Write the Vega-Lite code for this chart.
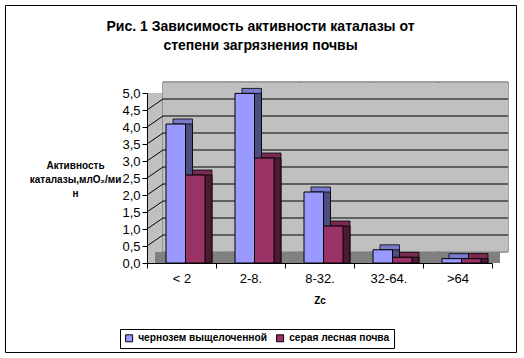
{
  "$schema": "https://vega.github.io/schema/vega-lite/v6.json",
  "width": 511,
  "height": 347,
  "autosize": {"type": "none"},
  "padding": {"left": 5, "top": 5, "right": 8, "bottom": 6},
  "background": "white",
  "config": {
    "view": {"stroke": "black", "strokeWidth": 1, "fill": "white"},
    "font": "Liberation Sans",
    "legend": {
      "orient": "none", "legendX": 115, "legendY": 324, "direction": "horizontal",
      "strokeColor": "black", "padding": 4, "symbolType": "square", "symbolSize": 49,
      "symbolStrokeColor": "black", "symbolStrokeWidth": 1,
      "labelFont": "Liberation Sans", "labelFontSize": 10.2, "labelFontWeight": "bold",
      "labelColor": "black", "columnPadding": 7, "labelOffset": 4, "labelLimit": 300
    }
  },
  "title": {
    "text": ["Рис. 1 Зависимость активности каталазы от", "степени загрязнения почвы"],
    "font": "Liberation Sans", "fontSize": 14, "fontWeight": "bold", "color": "black",
    "anchor": "middle", "frame": "group", "baseline": "alphabetic", "offset": -59, "lineHeight": 19
  },
  "datasets": {
    "main": [
      {"zc": "< 2", "soil": "чернозем выщелоченной", "activity": 4.0},
      {"zc": "< 2", "soil": "серая лесная почва", "activity": 2.5},
      {"zc": "2-8.", "soil": "чернозем выщелоченной", "activity": 4.9},
      {"zc": "2-8.", "soil": "серая лесная почва", "activity": 3.0},
      {"zc": "8-32.", "soil": "чернозем выщелоченной", "activity": 2.0},
      {"zc": "8-32.", "soil": "серая лесная почва", "activity": 1.0},
      {"zc": "32-64.", "soil": "чернозем выщелоченной", "activity": 0.3},
      {"zc": "32-64.", "soil": "серая лесная почва", "activity": 0.08},
      {"zc": ">64", "soil": "чернозем выщелоченной", "activity": 0.04},
      {"zc": ">64", "soil": "серая лесная почва", "activity": 0.04}
    ],
    "grid": [
      {"level": 0.5}, {"level": 1.0}, {"level": 1.5}, {"level": 2.0}, {"level": 2.5},
      {"level": 3.0}, {"level": 3.5}, {"level": 4.0}, {"level": 4.5}
    ]
  },
  "data": {"name": "main"},
  "resolve": {
    "scale": {"xOffset": "independent", "fill": "independent"},
    "legend": {"fill": "independent"}
  },
  "layer": [
    {
      "mark": {"type": "bar", "fill": "#c0c0c0", "strokeWidth": 0},
      "encoding": {
        "x": {
          "field": "zc", "type": "nominal", "sort": ["< 2", "2-8.", "8-32.", "32-64.", ">64"],
          "scale": {"type": "band", "domain": ["< 2", "2-8.", "8-32.", "32-64.", ">64"], "range": [142, 487], "paddingInner": 0, "paddingOuter": 0},
          "axis": {
            "orient": "bottom", "offset": -89, "zindex": 1, "tickBand": "extent", "tickSize": 5,
            "labelFontSize": 13, "labelPadding": 4, "labelAngle": 0, "labelColor": "black",
            "labelFont": "Liberation Sans",
            "domainColor": "black", "tickColor": "black",
            "title": "Zc", "titleFontSize": 10, "titleFontWeight": "bold", "titlePadding": 10,
            "titleColor": "black", "titleFont": "Liberation Sans"
          }
        },
        "y": {
          "datum": 5, "type": "quantitative",
          "scale": {"domain": [0, 5], "range": [258, 88], "nice": false, "zero": true},
          "axis": {
            "orient": "left", "offset": -142, "zindex": 1, "grid": false,
            "domainColor": "black", "tickColor": "black", "tickSize": 5,
            "tickCount": 10,
            "labelOverlap": false, "labelSeparation": 0, "labelBound": false,
            "labelExpr": "replace(format(datum.value, '.1f'), '.', ',')",
            "labelFontSize": 13, "labelColor": "black", "labelFont": "Liberation Sans", "labelPadding": 2,
            "title": ["Активность", "каталазы,млО₂/ми", "н"],
            "titleAngle": 0, "titleFontSize": 10, "titleFontWeight": "bold", "titleColor": "black",
            "titleFont": "Liberation Sans", "titleAlign": "center", "titleBaseline": "alphabetic",
            "titleX": -72, "titleY": 163, "titleLineHeight": 14
          }
        },
        "y2": {"datum": 0}
      }
    },
    {
      "mark": {"type": "bar", "fill": "#c0c0c0", "stroke": "#808080", "strokeWidth": 1, "xOffset": 16, "x2Offset": 16, "yOffset": -11, "y2Offset": -11},
      "encoding": {
        "x": {"field": "zc", "type": "nominal"},
        "y": {"datum": 5, "type": "quantitative"},
        "y2": {"datum": 0}
      }
    },
    {
      "mark": {"type": "bar", "fill": "#c0c0c0", "strokeWidth": 0, "xOffset": 16, "x2Offset": 16, "yOffset": -10, "y2Offset": -12},
      "encoding": {
        "x": {"field": "zc", "type": "nominal"},
        "y": {"datum": 5, "type": "quantitative"},
        "y2": {"datum": 0}
      }
    },
    {
      "mark": {"type": "bar", "fill": "#808080", "strokeWidth": 0, "xOffset": 8, "x2Offset": 8},
      "encoding": {
        "x": {"field": "zc", "type": "nominal"},
        "y": {"datum": 0.32, "type": "quantitative"},
        "y2": {"datum": 0}
      }
    },
    {
      "data": {"name": "grid"},
      "mark": {"type": "rule", "color": "black", "strokeWidth": 1, "xOffset": -18.5, "x2Offset": 50.5, "yOffset": -11, "y2Offset": -11},
      "encoding": {
        "x": {"datum": "< 2"},
        "x2": {"datum": ">64"},
        "y": {"field": "level", "type": "quantitative"}
      }
    },
    {
      "data": {"name": "grid"},
      "mark": {"type": "rule", "color": "black", "strokeWidth": 1, "xOffset": -34.5, "x2Offset": -18.5, "yOffset": 0, "y2Offset": -11},
      "encoding": {
        "x": {"datum": "< 2"},
        "x2": {"datum": "< 2"},
        "y": {"field": "level", "type": "quantitative"},
        "y2": {"field": "level"}
      }
    },
    {
      "mark": {"type": "bar", "stroke": "black", "strokeWidth": 0.8, "yOffset": -8},
      "encoding": {
        "x": {"field": "zc", "type": "nominal"},
        "xOffset": {"field": "soil", "type": "nominal", "scale": {"domain": ["чернозем выщелоченной", "серая лесная почва"], "range": [26, 65], "paddingInner": 0, "paddingOuter": 0}},
        "y": {"field": "activity", "type": "quantitative", "stack": null},
        "fill": {"field": "soil", "type": "nominal", "scale": {"domain": ["чернозем выщелоченной", "серая лесная почва"], "range": ["#7a7acc", "#7a2952"]}, "legend": null}
      }
    },
    {
      "mark": {"type": "bar", "stroke": "black", "strokeWidth": 0.8, "yOffset": -3},
      "encoding": {
        "x": {"field": "zc", "type": "nominal"},
        "xOffset": {"field": "soil", "type": "nominal", "scale": {"domain": ["чернозем выщелоченной", "серая лесная почва"], "range": [26, 65], "paddingInner": 0, "paddingOuter": 0}},
        "y": {"field": "activity", "type": "quantitative", "stack": null},
        "fill": {"field": "soil", "type": "nominal", "scale": {"domain": ["чернозем выщелоченной", "серая лесная почва"], "range": ["#4d4d80", "#4d1a33"]}, "legend": null}
      }
    },
    {
      "mark": {"type": "bar", "stroke": "black", "strokeWidth": 1, "yOffset": -3},
      "encoding": {
        "x": {"field": "zc", "type": "nominal"},
        "xOffset": {"field": "soil", "type": "nominal", "scale": {"domain": ["чернозем выщелоченной", "серая лесная почва"], "range": [19, 58], "paddingInner": 0, "paddingOuter": 0}},
        "y": {"field": "activity", "type": "quantitative", "stack": null},
        "color": {"field": "soil", "type": "nominal", "scale": {"domain": ["чернозем выщелоченной", "серая лесная почва"], "range": ["#9999ff", "#993366"]}, "legend": {"title": null}}
      }
    }
  ]
}
